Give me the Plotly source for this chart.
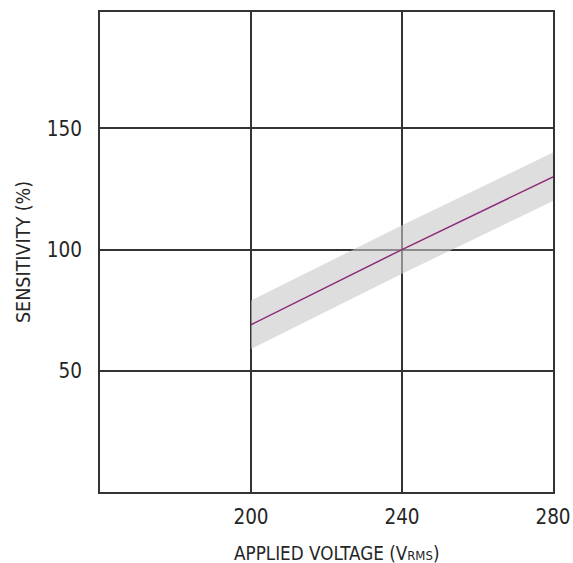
import plotly.graph_objects as go

voltage = [200, 240, 280]
sensitivity = [69, 100, 130]
band_upper = [79, 110, 140]
band_lower = [59, 90, 120]

x_ticks = [200, 240, 280]
y_ticks = [50, 100, 150]

FONT = "DejaVu Sans Condensed, DejaVu Sans, sans-serif"
TXT = "#262626"

fig = go.Figure()
fig.add_trace(go.Scatter(x=voltage, y=band_upper, mode="lines",
                         line=dict(width=0), hoverinfo="skip", showlegend=False))
fig.add_trace(go.Scatter(x=voltage, y=band_lower, mode="lines",
                         line=dict(width=0), fill="tonexty",
                         fillcolor="rgba(200,200,200,0.6)", hoverinfo="skip", showlegend=False))
fig.add_trace(go.Scatter(x=voltage, y=sensitivity, mode="lines",
                         line=dict(color="#8e2a7a", width=1.5), showlegend=False))

fig.update_layout(
    width=581, height=563,
    margin=dict(l=100, r=20, t=10, b=71),
    paper_bgcolor="white", plot_bgcolor="white",
    font=dict(family=FONT, color=TXT),
    annotations=[dict(
        text="APPLIED VOLTAGE (V<span style='font-size:13px'>RMS</span>)",
        xref="paper", yref="paper", x=0.522, y=-0.128,
        xanchor="center", yanchor="middle", showarrow=False,
        font=dict(size=18.7, family=FONT, color=TXT),
    )],
)
fig.update_xaxes(
    range=[160, 280], tickvals=x_ticks, ticktext=[str(v) for v in x_ticks],
    showgrid=True, gridcolor="#333", gridwidth=1.5,
    showline=True, linecolor="#333", linewidth=2, mirror=True,
    ticks="", tickfont=dict(size=20.5, family=FONT), zeroline=False,
    ticklabelstandoff=5,
)
fig.update_yaxes(
    range=[0, 198], tickvals=y_ticks, ticktext=[str(v) for v in y_ticks],
    showgrid=True, gridcolor="#333", gridwidth=1.5,
    showline=True, linecolor="#333", linewidth=2, mirror=True,
    ticks="", tickfont=dict(size=20.5, family=FONT), zeroline=False,
    ticklabelstandoff=12,
    title=dict(text="SENSITIVITY (%)", font=dict(size=19.5, family=FONT), standoff=11),
)

fig.write_html(
    "out.html",
    config={"displayModeBar": False},
    post_script="document.body.style.margin='0px';document.body.style.overflow='hidden';",
)
